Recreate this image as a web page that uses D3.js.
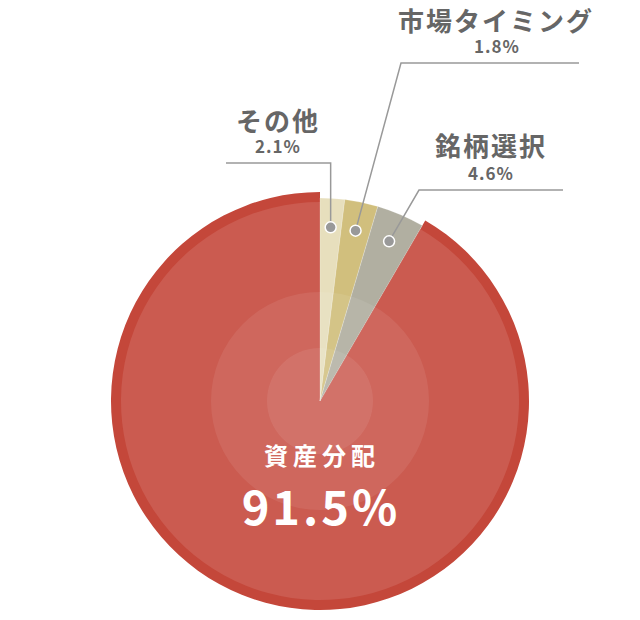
<!DOCTYPE html>
<html><head><meta charset="utf-8">
<script src="https://cdn.jsdelivr.net/npm/d3@7"></script>
<style>html,body{margin:0;padding:0;background:#fff;}svg{display:block;}</style>
</head><body>
<svg id="c" width="640" height="620"></svg>
<script>
const categories = ["その他", "市場タイミング", "銘柄選択", "資産分配"];
// slice sizes as drawn in the picture (percent of the circle)
const values = [1.95, 2.65, 3.8, 91.6];
const valueLabels = ["2.1%", "1.8%", "4.6%", "91.5%"];
const colors = ["#e7dfbd", "#d1bf7d", "#b1afa1", "#cb5b50"];

const svg = d3.select("#c");
const cx = 320, cy = 401;
const g = svg.append("g").attr("transform", `translate(${cx},${cy})`);
const data = categories.map((c, i) => ({name: c, value: values[i], label: valueLabels[i], color: colors[i]}));
const pie = d3.pie().sort(null).value(d => d.value);
const arcs = pie(data);
const font = "'Noto Sans CJK JP','Noto Sans',sans-serif";

// main (large) slice with darker ring
const big = arcs[3];
g.append("path").attr("d", d3.arc().innerRadius(0).outerRadius(209)(big)).attr("fill", "#c4473a");
g.append("path").attr("d", d3.arc().innerRadius(0).outerRadius(199)(big)).attr("fill", big.data.color);
// small slices
const smallArc = d3.arc().innerRadius(0).outerRadius(203);
g.selectAll("path.small").data(arcs.slice(0, 3)).join("path")
  .attr("class", "small").attr("d", smallArc).attr("fill", d => d.data.color)
  .attr("stroke", "rgba(255,255,255,0.35)").attr("stroke-width", 0.6);

// translucent overlay circles
g.append("circle").attr("r", 109).attr("fill", "#fff").attr("fill-opacity", 0.08);
g.append("circle").attr("r", 53).attr("fill", "#fff").attr("fill-opacity", 0.08);

// leader lines and dots
const dotArc = d3.arc().innerRadius(174).outerRadius(174);
const elbows = [
  {bend: [330, 163], end: [226, 163], text: [278, 131], val: [278, 153]},
  {bend: [401, 63], end: [579, 63], text: [496, 31], val: [497, 53]},
  {bend: [419, 190], end: [563, 190], text: [491, 156], val: [491, 180]}
];
arcs.slice(0, 3).forEach((a, i) => {
  const [dx, dy] = dotArc.centroid(a);
  const px = cx + dx, py = cy + dy;
  const e = elbows[i];
  const bx = i === 0 ? px : e.bend[0];
  svg.append("polyline")
    .attr("points", `${px},${py} ${bx},${e.bend[1]} ${e.end[0]},${e.end[1]}`)
    .attr("fill", "none").attr("stroke", "#999").attr("stroke-width", 1.5);
  svg.append("circle").attr("cx", px).attr("cy", py).attr("r", 5.5)
    .attr("fill", "#999").attr("stroke", "#fff").attr("stroke-width", 1.5);
  svg.append("text").attr("x", e.text[0]).attr("y", e.text[1]).attr("text-anchor", "middle")
    .attr("font-family", font).attr("font-weight", 700).attr("font-size", 26)
    .attr("letter-spacing", 2).attr("fill", "#666").text(a.data.name);
  svg.append("text").attr("x", e.val[0]).attr("y", e.val[1]).attr("text-anchor", "middle")
    .attr("font-family", font).attr("font-weight", 700).attr("font-size", 17)
    .attr("letter-spacing", 1).attr("fill", "#666").text(a.data.label);
});

// center labels
svg.append("text").attr("x", cx + 2).attr("y", 465).attr("text-anchor", "middle")
  .attr("font-family", font).attr("font-weight", 700).attr("font-size", 24)
  .attr("letter-spacing", 5).attr("fill", "#fff").text(big.data.name);
svg.append("text").attr("x", cx + 1).attr("y", 525).attr("text-anchor", "middle")
  .attr("font-family", font).attr("font-weight", 700).attr("font-size", 47)
  .attr("letter-spacing", 3).attr("fill", "#fff").text(big.data.label);
</script>
</body></html>
